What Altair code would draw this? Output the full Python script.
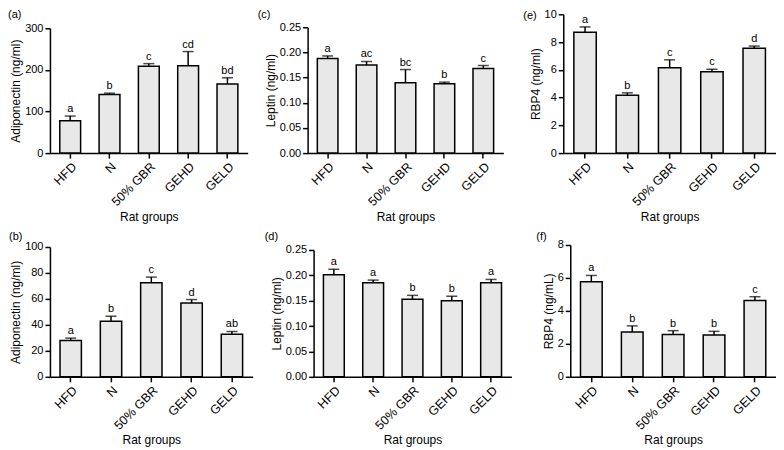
import altair as alt
import pandas as pd

groups = ["HFD", "N", "50% GBR", "GEHD", "GELD"]

a_mean = [78, 141, 209, 210, 166]
a_err = [11, 3, 6, 34, 15]
a_sig = ["a", "b", "c", "cd", "bd"]

c_mean = [0.188, 0.175, 0.140, 0.138, 0.168]
c_err = [0.005, 0.007, 0.026, 0.003, 0.006]
c_sig = ["a", "ac", "bc", "b", "c"]

e_mean = [8.71, 4.16, 6.15, 5.86, 7.56]
e_err = [0.38, 0.18, 0.57, 0.18, 0.15]
e_sig = ["a", "b", "c", "c", "d"]

b_mean = [28.0, 42.7, 72.4, 56.8, 32.7]
b_err = [1.8, 3.9, 4.4, 2.7, 2.2]
b_sig = ["a", "b", "c", "d", "ab"]

d_mean = [0.201, 0.1856, 0.153, 0.150, 0.1856]
d_err = [0.011, 0.005, 0.0075, 0.0088, 0.0063]
d_sig = ["a", "a", "b", "b", "a"]

f_mean = [5.77, 2.72, 2.57, 2.53, 4.63]
f_err = [0.38, 0.37, 0.23, 0.23, 0.23]
f_sig = ["a", "b", "b", "b", "c"]

FONT = "Liberation Sans"


def panel(tag, mean, err, sig, ytitle, yticks, yfmt, w, h, top, lx, ly):
    df = pd.DataFrame({
        "group": groups,
        "mean": mean,
        "top": [m + e for m, e in zip(mean, err)],
        "sig": sig,
    })
    x = alt.X("group:N", sort=groups, title="Rat groups",
              scale=alt.Scale(paddingInner=0.47, paddingOuter=0.25),
              axis=alt.Axis(labelAngle=-45, labelPadding=2, titlePadding=3,
                            labelFontSize=12.5))
    yscale = alt.Scale(domain=[yticks[0], yticks[-1]], nice=False, range=[h, top])
    yaxis = alt.Axis(values=yticks, format=yfmt, title=ytitle, tickCount=20,
                     labelOverlap=False, labelPadding=2, titlePadding=2)
    base = alt.Chart(df)
    bars = base.mark_bar(fill="#e8e8e8", stroke="black", strokeWidth=1.5).encode(
        x=x, y=alt.Y("mean:Q", scale=yscale, axis=yaxis))
    rule = base.mark_rule(color="black", strokeWidth=1.5).encode(
        x=alt.X("group:N", sort=groups), y="mean:Q", y2="top:Q")
    cap = base.mark_tick(color="black", thickness=1.5, size=11).encode(
        x=alt.X("group:N", sort=groups), y="top:Q")
    txt = base.mark_text(font=FONT, fontSize=11, dy=-4, baseline="alphabetic",
                         color="black").encode(
        x=alt.X("group:N", sort=groups), y="top:Q", text="sig:N")
    lab = alt.Chart(pd.DataFrame({"t": [tag]})).mark_text(
        font=FONT, fontSize=11, align="left", baseline="top", color="black"
    ).encode(x=alt.value(lx), y=alt.value(ly), text="t:N")
    return alt.layer(bars, rule, cap, txt, lab).properties(width=w, height=h)


H1 = 139
H2 = 132

pa = panel("(a)", a_mean, a_err, a_sig, "Adiponectin (ng/ml)", [0, 100, 200, 300], "d",
           198, H1, 14, -42, -5)
pc = panel("(c)", c_mean, c_err, c_sig, "Leptin (ng/ml)", [0, 0.05, 0.10, 0.15, 0.20, 0.25], ".2f",
           196, H1, 13, -50, -5)
pe = panel("(e)", e_mean, e_err, e_sig, "RBP4 (ng/ml)", [0, 2, 4, 6, 8, 10], "d",
           213, H1, 0, -40, -4)
pb = panel("(b)", b_mean, b_err, b_sig, "Adiponectin (ng/ml)", [0, 20, 40, 60, 80, 100], "d",
           203, H2, 2, -41, -14)
pd_ = panel("(d)", d_mean, d_err, d_sig, "Leptin (ng/ml)", [0, 0.05, 0.10, 0.15, 0.20, 0.25], ".2f",
            198, H2, 5, -49, -14)
pf = panel("(f)", f_mean, f_err, f_sig, "RBP4 (ng/mL)", [0, 2, 4, 6, 8], "d",
           206, H2, 0, -34, -14)

row1 = alt.hconcat(alt.hconcat(pa, pc, spacing=10), pe, spacing=20)
row2 = alt.hconcat(alt.hconcat(pb, pd_, spacing=12), pf, spacing=25)

chart = alt.vconcat(row1, row2, spacing=8).properties(
    padding=0
).configure_view(strokeWidth=0).configure_axis(
    grid=False,
    domainColor="black", domainWidth=1.5,
    tickColor="black", tickWidth=1.5, tickSize=5,
    labelColor="black", labelFont=FONT, labelFontSize=11,
    titleColor="black", titleFont=FONT, titleFontSize=12, titleFontWeight="normal",
).configure_concat(spacing=10)

chart.save("out.html", embed_options={"renderer": "svg", "actions": False})
